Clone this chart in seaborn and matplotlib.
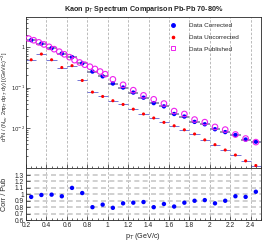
import numpy as np
import matplotlib
matplotlib.use("Agg")
import matplotlib.pyplot as plt
import matplotlib.ticker as mticker
from matplotlib.lines import Line2D
import seaborn as sns
import pandas as pd

# published spectrum (finer binning below 1 GeV/c)
pt_pub = [0.225, 0.275, 0.325, 0.375, 0.425, 0.475, 0.525, 0.575, 0.625, 0.675,
          0.725, 0.775, 0.825, 0.875, 0.925, 0.975,
          1.05, 1.15, 1.25, 1.35, 1.45, 1.55, 1.65, 1.75, 1.85, 1.95,
          2.05, 2.15, 2.25, 2.35, 2.45]
y_pub = [1.65, 1.50, 1.33, 1.18, 1.03, 0.90, 0.78, 0.67, 0.57, 0.48,
         0.42, 0.37, 0.33, 0.29, 0.25, 0.215,
         0.16, 0.117, 0.086, 0.064, 0.051, 0.040, 0.026, 0.022, 0.016, 0.0138,
         0.0105, 0.0090, 0.0068, 0.0054, 0.0044]

# corrected / uncorrected, 0.1 GeV/c bins
pt = [0.25, 0.35, 0.45, 0.55, 0.65, 0.75, 0.85, 0.95, 1.05, 1.15, 1.25, 1.35,
      1.45, 1.55, 1.65, 1.75, 1.85, 1.95, 2.05, 2.15, 2.25, 2.35, 2.45]
y_corr = [1.51, 1.24, 0.955, 0.70, 0.57, 0.40, 0.25, 0.19, 0.126, 0.10, 0.075,
          0.056, 0.041, 0.034, 0.022, 0.019, 0.0140, 0.0122, 0.0092, 0.0078,
          0.0066, 0.0051, 0.0045]
y_unc = [0.49, 0.68, 0.49, 0.315, 0.35, 0.15, 0.077, 0.060, 0.047, 0.038, 0.029,
         0.022, 0.0175, 0.0136, 0.0112, 0.0089, 0.0070, 0.0050, 0.0038, 0.0028,
         0.0021, 0.0015, 0.00115]
ratio = [0.96, 0.99, 0.995, 0.97, 1.10, 1.02, 0.80, 0.84, 0.79, 0.86, 0.87, 0.88,
         0.80, 0.85, 0.81, 0.87, 0.90, 0.91, 0.86, 0.90, 0.97, 0.96, 1.04]

sns.set_style("ticks")
plt.rcParams['font.family'] = ['Liberation Sans', 'DejaVu Sans']
plt.rcParams['mathtext.fontset'] = 'dejavusans'

fig = plt.figure(figsize=(2.66, 2.41), dpi=100)
ax = fig.add_axes([0.098, 0.303, 0.883, 0.628])
ax2 = fig.add_axes([0.098, 0.087, 0.883, 0.216], sharex=ax)

df = pd.DataFrame({"pt": pt, "corr": y_corr, "unc": y_unc, "ratio": ratio})
dfp = pd.DataFrame({"pt": pt_pub, "pub": y_pub})

grid_kw = dict(color="#b0b0b0", ls=(0, (3, 2)), lw=0.6)
for xv in np.arange(0.4, 2.41, 0.2):
    ax.axvline(xv, zorder=0, **grid_kw)
    ax2.axvline(xv, zorder=0, **grid_kw)
for yv in np.arange(0.7, 1.35, 0.1):
    ax2.axhline(yv, zorder=0, color="#c8c8c8", ls=(0, (3, 2)), lw=1.2)

# uncorrected
ax.errorbar(df["pt"], df["unc"], xerr=0.05, fmt="none", ecolor="#6060d0", elinewidth=0.6, zorder=2)
sns.scatterplot(data=df, x="pt", y="unc", ax=ax, color="red", marker="o", s=5,
                edgecolor="none", zorder=3, legend=False)
# corrected
ax.errorbar(df["pt"], df["corr"], xerr=0.05, fmt="none", ecolor="#8080a0", elinewidth=1.2, zorder=2)
sns.scatterplot(data=df, x="pt", y="corr", ax=ax, color="blue", marker="o", s=10,
                edgecolor="none", zorder=4, legend=False)
# published
sns.scatterplot(data=dfp, x="pt", y="pub", ax=ax, marker="o", s=16, facecolor="none",
                edgecolor="#ee22ee", linewidth=0.8, zorder=5, legend=False)

ax.set_yscale("log")
ax.set_xlim(0.2, 2.5)
ax.set_ylim(1e-3, 5.8)
ax.set_xlabel("")
ax.set_ylabel(r"d$^2$N / (N$_{ev}$ 2$\pi$p$_T$ dp$_T$ dy) [(GeV/c)$^{-2}$]", fontsize=4.1, labelpad=1)
ax.yaxis.set_label_coords(-0.07, 0.47)
ax.yaxis.set_major_locator(mticker.FixedLocator([1e-2, 1e-1, 1]))
ax.yaxis.set_minor_locator(mticker.LogLocator(base=10, subs=np.arange(2, 10), numticks=20))
ax.yaxis.set_major_formatter(mticker.FixedFormatter([r"$10^{-2}$", r"$10^{-1}$", "1"]))
ax.yaxis.set_minor_formatter(mticker.NullFormatter())
ax.tick_params(axis="x", labelbottom=False)
ax.set_title(r"Kaon p$_T$ Spectrum Comparison Pb-Pb 70-80%", fontsize=5.2,
             fontweight="bold", pad=4)

handles = [Line2D([], [], ls="none", marker="o", ms=2.5, color="blue"),
           Line2D([], [], ls="none", marker="o", ms=1.6, color="red"),
           Line2D([], [], ls="none", marker="s", ms=3, color="#ee22ee", mfc="none",
                  mec="#ee22ee", mew=0.7)]
ax.legend(handles, ["Data Corrected", "Data Uncorrected", "Data Published"],
          loc="upper left", bbox_to_anchor=(0.585, 1.0), frameon=False,
          fontsize=4.6, handlelength=1.0, labelspacing=0.95, handletextpad=2.0,
          borderpad=0.5)

sns.scatterplot(data=df, x="pt", y="ratio", ax=ax2, color="blue", marker="o", s=10,
                edgecolor="none", zorder=4, legend=False)
ax2.set_ylim(0.6, 1.41)
ax2.yaxis.set_major_locator(mticker.FixedLocator(np.round(np.arange(0.6, 1.35, 0.1), 1)))
ax2.yaxis.set_major_formatter(mticker.FuncFormatter(lambda v, p: "%g" % v))
ax2.xaxis.set_major_locator(mticker.MultipleLocator(0.2))
ax2.xaxis.set_minor_locator(mticker.MultipleLocator(0.05))
ax2.xaxis.set_major_formatter(mticker.FuncFormatter(lambda v, p: "%g" % round(v, 1)))
ax2.set_xlabel(r"p$_T$ (GeV/c)", fontsize=5.2, labelpad=1)
ax2.set_ylabel("Corr / Pub", fontsize=5.2, labelpad=1)
ax2.yaxis.set_label_coords(-0.075, 0.5)

for a in (ax, ax2):
    a.tick_params(which="both", direction="in", labelsize=4.8, pad=1.5, width=0.5)
    a.tick_params(which="major", length=3)
    a.tick_params(which="minor", length=1.5)
    for s in a.spines.values():
        s.set_linewidth(0.6)
ax.tick_params(axis="y", labelsize=3.9, pad=0.8)
ax.xaxis.set_minor_locator(mticker.MultipleLocator(0.05))

fig.savefig("out.png", dpi=100)
